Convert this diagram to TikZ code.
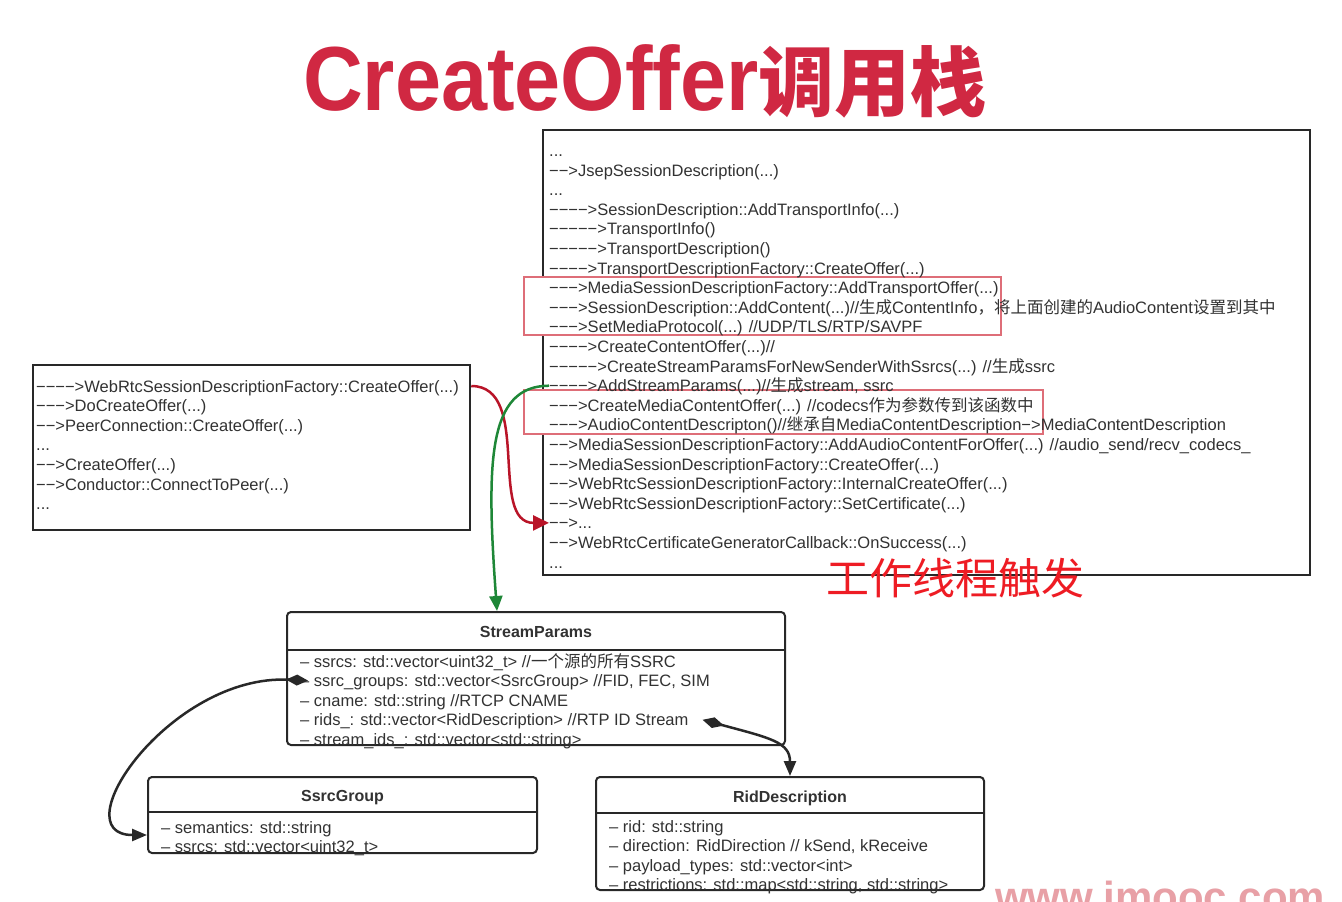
\documentclass[tikz,border=0pt]{standalone}
\usepackage{fontspec}
\setmainfont{Liberation Sans}
\newfontfamily\cjk{Noto Sans CJK SC}
\usetikzlibrary{arrows.meta}

\definecolor{titlered}{RGB}{208,40,66}
\definecolor{txtgray}{RGB}{50,50,50}
\definecolor{linegray}{RGB}{40,40,40}
\definecolor{hlred}{RGB}{222,110,120}
\definecolor{arrowred}{RGB}{185,20,40}
\definecolor{arrowgreen}{RGB}{30,135,55}
\definecolor{notered}{RGB}{238,28,36}
\definecolor{wmpink}{RGB}{232,160,166}

\tikzset{
  ln/.style={anchor=west, inner sep=0pt, text height=15pt, text depth=3pt,
    font=\fontsize{16.5}{19.6}\selectfont, text=txtgray},
  frame/.style={draw=linegray, line width=2.5pt, fill=white, inner sep=0pt},
  umlbox/.style={draw=linegray, line width=2pt, fill=white, rounded corners=4pt, inner sep=0pt},
  umlhead/.style={inner sep=0pt, font=\fontsize{16}{19}\selectfont\bfseries, text=txtgray},
  hlbox/.style={draw=hlred, line width=2pt, fill=white},
  redarrow/.style={draw=arrowred, line width=2.5pt, -{Triangle[length=16pt,width=15pt]}},
  greenarrow/.style={draw=arrowgreen, line width=2.5pt, -{Triangle[length=15pt,width=13pt]}},
  umlarrow/.style={draw=linegray, line width=2.5pt, {Diamond[length=22pt,width=11pt]}-{Triangle[length=15pt,width=12pt]}}
}

\begin{document}
\begin{tikzpicture}[x=1pt, y=-1pt]
    \useasboundingbox (0,0) rectangle (1342,902);
    \fill[white] (0,0) rectangle (1342,902);

    % Title
    \node[text=titlered, inner sep=0pt] (title) at (645,81)
      {\scalebox{0.91}[1]{\fontsize{91}{91}\selectfont\bfseries CreateOffer}{\cjk\bfseries\fontsize{76}{76}\selectfont 调用栈}};

    % Draw boxes
    \node[frame, minimum width=767pt, minimum height=445pt] (calls) at (926.5,352.5) {};
    \node[frame, minimum width=437pt, minimum height=165pt] (left) at (251.5,447.5) {};
    \node[umlbox, minimum width=498pt, minimum height=133pt] (sp) at (536,678.5) {};
    \node[umlbox, minimum width=389pt, minimum height=76pt] (sg) at (342.5,815) {};
    \node[umlbox, minimum width=388pt, minimum height=113pt] (rd) at (790,833.5) {};

    % Highlights
    \draw[hlbox] (524,277) rectangle (1001,335);
    \draw[hlbox] (524,390) rectangle (1043,434);

    % Call stack, worker side
    \node[ln] (call1) at (549,150.5) {...};
    \node[ln] (call2) at (549,170.1) {−−>JsepSessionDescription(...)};
    \node[ln] (call3) at (549,189.7) {...};
    \node[ln] (call4) at (549,209.3) {−−−−>SessionDescription::AddTransportInfo(...)};
    \node[ln] (call5) at (549,228.9) {−−−−−>TransportInfo()};
    \node[ln] (call6) at (549,248.5) {−−−−−>TransportDescription()};
    \node[ln] (call7) at (549,268.1) {−−−−>TransportDescriptionFactory::CreateOffer(...)};
    \node[ln] (call8) at (549,287.7) {−−−>MediaSessionDescriptionFactory::AddTransportOffer(...)};
    \node[ln] (call9) at (549,307.3) {−−−>SessionDescription::AddContent(...)//{\cjk 生成}ContentInfo{\cjk ，将上面创建的}AudioContent{\cjk 设置到其中}};
    \node[ln] (call10) at (549,326.9) {−−−>SetMediaProtocol(...) //UDP/TLS/RTP/SAVPF};
    \node[ln] (call11) at (549,346.5) {−−−−>CreateContentOffer(...)//};
    \node[ln] (call12) at (549,366.1) {−−−−−>CreateStreamParamsForNewSenderWithSsrcs(...) //{\cjk 生成}ssrc};
    \node[ln] (call13) at (549,385.7) {−−−−>AddStreamParams(...)//{\cjk 生成}stream, ssrc};
    \node[ln] (call14) at (549,405.3) {−−−>CreateMediaContentOffer(...) //codecs{\cjk 作为参数传到该函数中}};
    \node[ln] (call15) at (549,424.9) {−−−>AudioContentDescripton()//{\cjk 继承自}MediaContentDescription−>MediaContentDescription};
    \node[ln] (call16) at (549,444.5) {−−>MediaSessionDescriptionFactory::AddAudioContentForOffer(...) //audio\_send/recv\_codecs\_};
    \node[ln] (call17) at (549,464.1) {−−>MediaSessionDescriptionFactory::CreateOffer(...)};
    \node[ln] (call18) at (549,483.7) {−−>WebRtcSessionDescriptionFactory::InternalCreateOffer(...)};
    \node[ln] (call19) at (549,503.3) {−−>WebRtcSessionDescriptionFactory::SetCertificate(...)};
    \node[ln] (call20) at (549,522.9) {−−>...};
    \node[ln] (call21) at (549,542.5) {−−>WebRtcCertificateGeneratorCallback::OnSuccess(...)};
    \node[ln] (call22) at (549,562.1) {...};

    % Call stack, caller side
    \node[ln] (l1) at (36,386) {−−−−>WebRtcSessionDescriptionFactory::CreateOffer(...)};
    \node[ln] (l2) at (36,405.6) {−−−>DoCreateOffer(...)};
    \node[ln] (l3) at (36,425.2) {−−>PeerConnection::CreateOffer(...)};
    \node[ln] (l4) at (36,444.8) {...};
    \node[ln] (l5) at (36,464.4) {−−>CreateOffer(...)};
    \node[ln] (l6) at (36,484) {−−>Conductor::ConnectToPeer(...)};
    \node[ln] (l7) at (36,503.6) {...};

    % StreamParams
    \node[umlhead] (sphead) at (536,632) {StreamParams};
    \draw[linegray, line width=2pt] (287,650) -- (785,650);
    \node[ln] (sp1) at (300,661) {– ssrcs: std::vector<uint32\_t> //{\cjk 一个源的所有}SSRC};
    \node[ln] (sp2) at (300,680.6) {– ssrc\_groups: std::vector<SsrcGroup> //FID, FEC, SIM};
    \node[ln] (sp3) at (300,700.2) {– cname: std::string //RTCP CNAME};
    \node[ln] (sp4) at (300,719.8) {– rids\_: std::vector<RidDescription> //RTP ID Stream};
    \node[ln] (sp5) at (300,739.4) {– stream\_ids\_: std::vector<std::string>};

    % SsrcGroup
    \node[umlhead] (sghead) at (342.5,798) {SsrcGroup};
    \draw[linegray, line width=2pt] (148,812) -- (537,812);
    \node[ln] (sg1) at (161,827) {– semantics: std::string};
    \node[ln] (sg2) at (161,846.6) {– ssrcs: std::vector<uint32\_t>};

    % RidDescription
    \node[umlhead] (rdhead) at (790,798) {RidDescription};
    \draw[linegray, line width=2pt] (596,813) -- (984,813);
    \node[ln] (rd1) at (609,826) {– rid: std::string};
    \node[ln] (rd2) at (609,845.6) {– direction: RidDirection // kSend, kReceive};
    \node[ln] (rd3) at (609,865.2) {– payload\_types: std::vector<int>};
    \node[ln] (rd4) at (609,884.8) {– restrictions: std::map<std::string, std::string>};

    % Notes
    \node[anchor=west, inner sep=0pt, text=notered, font=\cjk\fontsize{43}{43}\selectfont] (worker) at (826,578) {工作线程触发};
    \node[anchor=base west, inner sep=0pt, text=wmpink, font=\fontsize{42}{42}\selectfont\bfseries] (wm) at (995,911) {www.imooc.com};

    % Draw connections
    \coordinate (spin) at ([xshift=-39pt]sp.north);
    \coordinate (sgin) at ([yshift=-20pt]sg.west);
    \draw[redarrow] (left.east |- l1) to[out=0, in=180] (call20.west);
    \draw[greenarrow] (call13.west) .. controls (488,386) and (486,460) .. (spin);
    \draw[umlarrow] ([xshift=8pt]sp2.west) .. controls (170,674) and (60,835) .. (sgin);
    \draw[umlarrow] ([xshift=14pt]sp4.east) .. controls (770,738) and (790,742) .. (rd.north);
\end{tikzpicture}
\end{document}
